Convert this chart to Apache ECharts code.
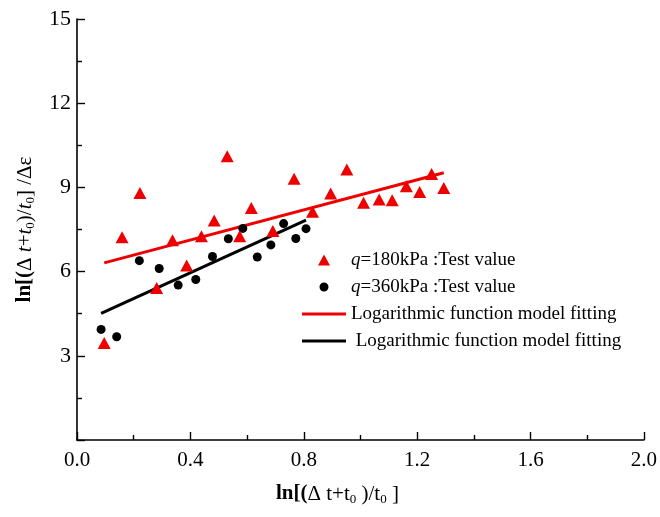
<!DOCTYPE html>
<html>
<head>
<meta charset="utf-8">
<script src="https://cdn.jsdelivr.net/npm/echarts@6/dist/echarts.min.js"></script>
<style>
  html, body { margin: 0; padding: 0; background: #fff; }
  #chart { width: 660px; height: 517px; }
</style>
</head>
<body>
<div id="chart"></div>
<script>
// Test values, q = 180 kPa
const x180 = [0.096, 0.159, 0.222, 0.281, 0.337, 0.387, 0.439, 0.484, 0.530, 0.574, 0.615, 0.691,
              0.766, 0.831, 0.895, 0.952, 1.011, 1.066, 1.112, 1.162, 1.209, 1.251, 1.294];
const y180 = [3.46, 7.22, 8.80, 5.42, 7.12, 6.22, 7.26, 7.82, 10.11, 7.26, 8.27, 7.45,
              9.31, 8.13, 8.78, 9.64, 8.45, 8.57, 8.54, 9.04, 8.84, 9.48, 8.98];

// Test values, q = 360 kPa
const x360 = [0.085, 0.140, 0.220, 0.290, 0.357, 0.419, 0.478, 0.534, 0.585, 0.636, 0.684, 0.729, 0.772, 0.808];
const y360 = [3.94, 3.68, 6.39, 6.11, 5.52, 5.72, 6.54, 7.17, 7.54, 6.52, 6.95, 7.71, 7.18, 7.53];

// Fitted lines (end points)
const fit180X = [0.096, 1.294];
const fit180Y = [6.31, 9.52];
const fit360X = [0.085, 0.808];
const fit360Y = [4.51, 7.83];

const seriesNames = [
  'q=180kPa :Test value',
  'q=360kPa :Test value',
  'Logarithmic function model fitting',
  ' Logarithmic function model fitting'
];

const xTicks = { min: 0, max: 2.0, interval: 0.4 };
const yTicks = { min: 0, max: 15, interval: 3 };

const FONT = '"Times New Roman", "Liberation Serif", serif';
const RED = '#ee0000';
const BLACK = '#000000';

const zip = (xs, ys) => xs.map((x, i) => [x, ys[i]]);

const chart = echarts.init(document.getElementById('chart'), null, { renderer: 'canvas' });

const subStyle = { fontFamily: FONT, fontSize: 13, color: '#000', padding: [11, 0, 0, 0] };

// legend icons, padded to the full 44x11 item box so they are not stretched
const LINE_ICON = 'path://M0,4 L44,4 L44,7 L0,7 Z M0,0 L0,0 M44,11 L44,11';
const TRI_ICON = 'path://M22,0 L28,11 L16,11 Z M0,0 L0,0 M44,11 L44,11';
const DOT_ICON = 'path://M22,1 A4.5,4.5 0 1 1 21.99,1 Z M0,0 L0,0 M44,11 L44,11';

chart.setOption({
  backgroundColor: '#fff',
  animation: false,
  grid: { left: 77, right: 14, top: 19, bottom: 77 },
  xAxis: {
    type: 'value',
    min: xTicks.min, max: xTicks.max, interval: xTicks.interval,
    axisLine: { show: true, onZero: false, lineStyle: { color: '#000', width: 1.6 } },
    axisTick: { show: true, inside: true, length: 8, lineStyle: { color: '#000', width: 1.4 } },
    minorTick: { show: true, splitNumber: 2, length: 5, lineStyle: { color: '#000', width: 1.4 } },
    splitLine: { show: false },
    axisLabel: {
      margin: 10, color: '#000', fontFamily: FONT, fontSize: 21,
      formatter: v => v.toFixed(1)
    },
    name: '{b|ln[(}{n|Δ t+t}{s|0}{n| )/t}{s|0}{n| ]}',
    nameLocation: 'middle',
    nameGap: 42,
    nameTextStyle: {
      padding: [0, 46, 0, 0],
      rich: {
        b: { fontFamily: FONT, fontSize: 21, fontWeight: 'bold', color: '#000' },
        n: { fontFamily: FONT, fontSize: 21, color: '#000' },
        s: subStyle
      }
    }
  },
  yAxis: {
    type: 'value',
    min: yTicks.min, max: yTicks.max, interval: yTicks.interval,
    axisLine: { show: true, onZero: false, lineStyle: { color: '#000', width: 1.6 } },
    axisTick: { show: true, inside: true, length: 8, lineStyle: { color: '#000', width: 1.4 } },
    minorTick: { show: true, splitNumber: 2, length: 5, lineStyle: { color: '#000', width: 1.4 } },
    splitLine: { show: false },
    axisLabel: {
      margin: 6, color: '#000', fontFamily: FONT, fontSize: 22,
      showMinLabel: false
    },
    name: '{b|ln[(}{n|Δ }{i|t}{n|+}{i|t}{s|0}{n|)/}{i|t}{s|0}{n|] /Δε}',
    nameLocation: 'middle',
    nameRotate: 90,
    nameGap: 40,
    nameTextStyle: {
      rich: {
        b: { fontFamily: FONT, fontSize: 21, fontWeight: 'bold', color: '#000' },
        n: { fontFamily: FONT, fontSize: 21, color: '#000' },
        i: { fontFamily: FONT, fontSize: 21, fontStyle: 'italic', color: '#000' },
        s: subStyle
      }
    }
  },
  legend: {
    orient: 'vertical',
    left: 302,
    top: 250,
    padding: 0,
    itemWidth: 44,
    itemHeight: 11,
    itemGap: 7,
    symbolKeepAspect: true,
    selectedMode: false,
    data: [
      { name: seriesNames[0], icon: TRI_ICON, itemStyle: { color: RED, opacity: 1 } },
      { name: seriesNames[1], icon: DOT_ICON, itemStyle: { color: BLACK, opacity: 1 } },
      { name: seriesNames[2], icon: LINE_ICON, itemStyle: { color: RED } },
      { name: seriesNames[3], icon: LINE_ICON, itemStyle: { color: BLACK } }
    ],
    textStyle: {
      fontFamily: FONT, fontSize: 19, color: '#000', lineHeight: 20,
      rich: {
        q: { fontFamily: FONT, fontSize: 19, fontStyle: 'italic', color: '#000', lineHeight: 20 },
        t: { fontFamily: FONT, fontSize: 19, color: '#000', lineHeight: 20 }
      }
    },
    formatter: name => {
      if (name.charAt(0) === 'q') {
        return '{q|q}{t|' + name.slice(1) + '}';
      }
      return name;
    }
  },
  series: [
    {
      name: seriesNames[2],
      type: 'line',
      data: zip(fit180X, fit180Y),
      symbol: 'none',
      showSymbol: false,
      lineStyle: { color: RED, width: 3 },
      itemStyle: { color: RED },
      z: 2
    },
    {
      name: seriesNames[3],
      type: 'line',
      data: zip(fit360X, fit360Y),
      symbol: 'none',
      showSymbol: false,
      lineStyle: { color: BLACK, width: 3 },
      itemStyle: { color: BLACK },
      z: 2
    },
    {
      name: seriesNames[1],
      type: 'scatter',
      data: zip(x360, y360),
      symbol: 'circle',
      symbolSize: 9,
      itemStyle: { color: BLACK, opacity: 1 },
      z: 3
    },
    {
      name: seriesNames[0],
      type: 'scatter',
      data: zip(x180, y180),
      symbol: 'triangle',
      symbolSize: [13, 12],
      itemStyle: { color: RED, opacity: 1 },
      z: 4
    }
  ]
});
</script>
</body>
</html>
